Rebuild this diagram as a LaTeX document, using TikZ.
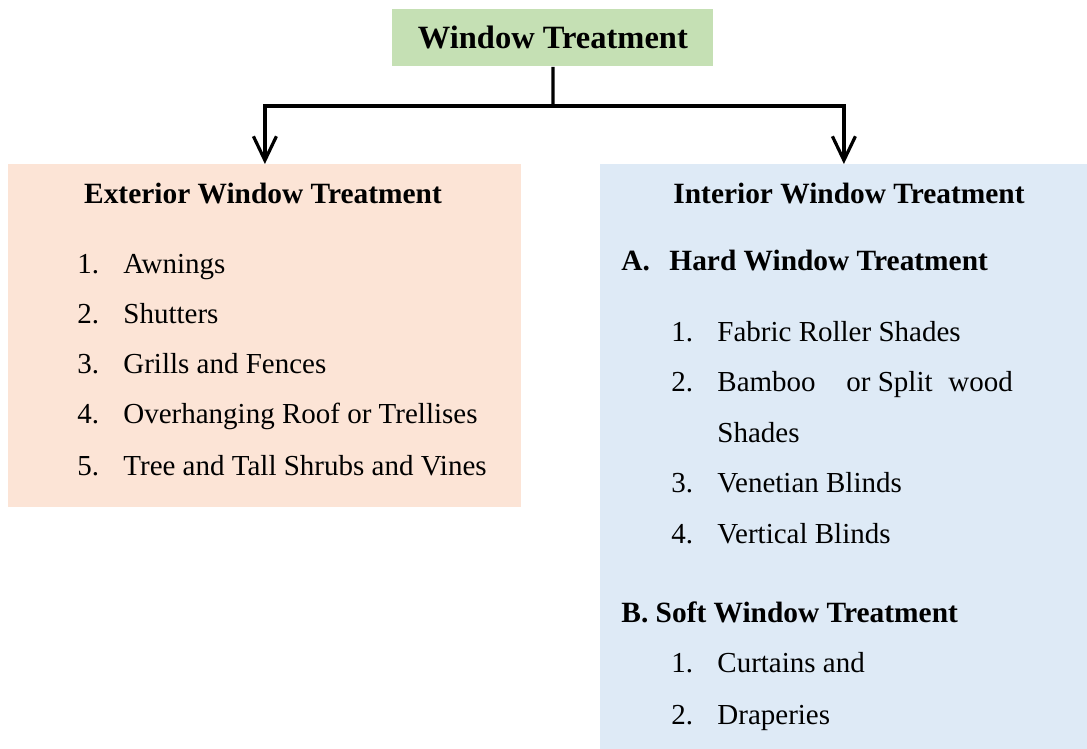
\documentclass[tikz,border=0pt]{standalone}
\usepackage{fontspec}
\setmainfont{Liberation Serif}
\usetikzlibrary{arrows.meta}
\definecolor{titlegreen}{HTML}{C5E0B4}
\definecolor{extpink}{HTML}{FCE4D6}
\definecolor{intblue}{HTML}{DEEAF6}
\tikzset{%
  block/.style   = {rectangle, inner sep=0pt, anchor=north west},
  head/.style    = {inner sep=0pt, anchor=base, font=\fontsize{14.7}{17}\selectfont\bfseries},
  subhead/.style = {inner sep=0pt, anchor=base west, font=\fontsize{14.7}{17}\selectfont\bfseries},
  item/.style    = {inner sep=0pt, anchor=base west, font=\fontsize{14.5}{17}\selectfont},
  link/.style    = {line width=1.6pt},
  arr/.style     = {line width=1.6pt, -{Straight Barb[length=12pt, width=11.5pt, line width=1.6pt]}}
}
\begin{document}
\begin{tikzpicture}[x=0.5pt, y=-0.5pt]
    \useasboundingbox (0,0) rectangle (1087,749);
    % boxes
    \node [block, fill=titlegreen, minimum width=160.5pt, minimum height=28.5pt,
      font=\fontsize{16.25}{19}\selectfont\bfseries] (Title) at (392,9) {Window Treatment};
    \node [block, fill=extpink, minimum width=256.5pt, minimum height=171.5pt] (Ext) at (8,164) {};
    \node [block, fill=intblue, minimum width=243.5pt, minimum height=292.5pt] (Int) at (600,164) {};
    % connectors
    \coordinate (split) at (553,106);
    \draw [link] (Title.south) -- (split);
    \draw [arr] (split) -| (Ext.north);
    \draw [arr] (split) -| (Int.north);
    % exterior list
    \node [head] (ExtHead) at (263,203) {Exterior Window Treatment};
    \node [item] (ExtNum1) at (77,273) {1.};
    \node [item] (ExtItem1) at (123,273) {Awnings};
    \node [item] (ExtNum2) at (77,323) {2.};
    \node [item] (ExtItem2) at (123,323) {Shutters};
    \node [item] (ExtNum3) at (77,373) {3.};
    \node [item] (ExtItem3) at (123,373) {Grills and Fences};
    \node [item] (ExtNum4) at (77,423) {4.};
    \node [item] (ExtItem4) at (123,423) {Overhanging Roof or Trellises};
    \node [item] (ExtNum5) at (77,475) {5.};
    \node [item] (ExtItem5) at (123,475) {Tree and Tall Shrubs and Vines};
    % interior list
    \node [head] (IntHead) at (849,203) {Interior Window Treatment};
    \node [subhead] (HardNum) at (621,270) {A.};
    \node [subhead] (HardHead) at (669,270) {Hard Window Treatment};
    \node [item] (HardNum1) at (671,341) {1.};
    \node [item] (HardItem1) at (717,341) {Fabric Roller Shades};
    \node [item] (HardNum2) at (671,391) {2.};
    \node [item] (HardItem2a) at (717,391) {Bamboo};
    \node [item] (HardItem2b) at (846,391) {or Split};
    \node [item] (HardItem2c) at (948,391) {wood};
    \node [item] (HardItem2d) at (717,442) {Shades};
    \node [item] (HardNum3) at (671,492) {3.};
    \node [item] (HardItem3) at (717,492) {Venetian Blinds};
    \node [item] (HardNum4) at (671,543) {4.};
    \node [item] (HardItem4) at (717,543) {Vertical Blinds};
    \node [subhead] (SoftHead) at (621,622) {B. Soft Window Treatment};
    \node [item] (SoftNum1) at (671,672) {1.};
    \node [item] (SoftItem1) at (717,672) {Curtains and};
    \node [item] (SoftNum2) at (671,724) {2.};
    \node [item] (SoftItem2) at (717,724) {Draperies};
\end{tikzpicture}
\end{document}
